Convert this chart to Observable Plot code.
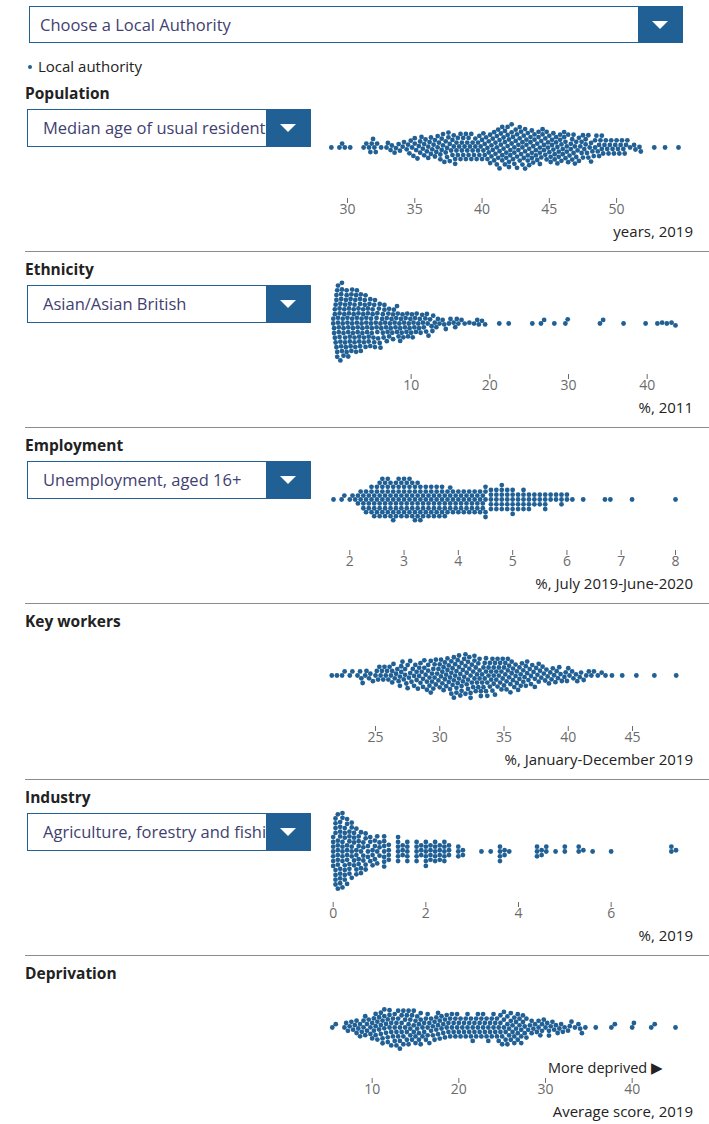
<!DOCTYPE html>
<html>
<head>
<meta charset="utf-8">
<script src="https://cdn.jsdelivr.net/npm/d3@7"></script>
<script src="https://cdn.jsdelivr.net/npm/@observablehq/plot@0.6"></script>
<style>
  body { margin: 0; background: #fff; font-family: "Open Sans", sans-serif; }
  #page { position: relative; width: 709px; height: 1124px; overflow: hidden; background: #fff; }
  .select { position: absolute; box-sizing: border-box; border: 1px solid #206095; background: #fff; overflow: hidden; }
  .select .txt { position: absolute; top: 0; white-space: nowrap; color: #3f4170; }
  .select .btn { position: absolute; right: 0; top: 0; bottom: 0; width: 44px; background: #206095; }
  .select .btn::after { content: ""; position: absolute; left: 14px; top: 50%; margin-top: -4px;
    border-left: 8px solid transparent; border-right: 8px solid transparent; border-top: 8px solid #fff; }
  .title { position: absolute; left: 25px; font-weight: 700; font-size: 15.5px; color: #222; line-height: 20px; }
  .sep { position: absolute; left: 25px; right: 0; height: 0; border-top: 1px solid #8c8c8c; }
  .unit { position: absolute; right: 16px; font-size: 15px; color: #222; line-height: 20px; white-space: nowrap; }
  .legend { position: absolute; left: 28px; top: 56px; font-size: 15px; color: #222; line-height: 20px; }
  .legend .dot { display: inline-block; width: 4px; height: 4px; border-radius: 50%; background: #206095; vertical-align: middle; margin-right: 6px; margin-top: -2px; }
</style>
</head>
<body>
<div id="page"></div>
<script>
// ---------- DATA ----------
// Median age of usual residents, years, 2019 — number of authorities per 0.1 year, from 28.8
const ageStart = 28.8, ageStep = 0.1;
const ageCounts = [1,0,
  0,0,0,0,1,0,1,0,1,0,  0,0,1,0,0,0,0,0,0,0,  0,0,1,0,1,0,1,1,1,1,  1,1,1,0,0,1,0,0,0,1,
  1,0,1,1,0,1,1,0,1,1,  0,1,1,0,1,1,1,1,1,1,  2,1,1,1,2,1,1,2,1,1,  2,1,2,1,1,2,1,2,1,2,
  2,2,1,2,2,2,2,1,2,2,  2,2,2,1,2,2,2,1,2,2,  2,1,2,2,1,2,1,2,2,1,  2,2,2,1,2,2,2,2,2,2,
  2,3,2,3,2,3,2,3,2,3,  3,2,3,2,3,2,3,2,3,2,  3,2,3,2,3,2,2,3,2,2,  2,2,2,3,2,2,2,2,2,2,
  2,2,2,2,2,2,2,2,2,2,  2,2,2,2,2,1,2,2,2,2,  2,1,2,1,2,2,1,2,1,2,  1,2,1,1,2,1,1,2,1,2,
  1,1,1,1,1,1,1,1,1,1,  1,1,1,1,1,1,1,1,1,0,  1,0,0,1,1,0,0,1,1,0,  0,0,0,0,0,0,0,0,1,0,
  0,0,0,0,0,0,1,0,0,0,  0,0,0,0,0,0,1];
const ageTicks = [30, 35, 40, 45, 50];

// Asian/Asian British, %, 2011 — number of authorities per 0.1 point, from 0.1, plus outliers
const asianStart = 0.1, asianStep = 0.1;
const asianCounts = [
  2,2,3,2,3,3,3,2,3,3,  3,3,2,3,2,3,2,3,2,3,  2,3,2,2,3,2,2,3,2,2,  3,2,2,2,3,2,2,2,2,2,
  2,2,2,2,2,2,1,2,2,2,  2,1,2,2,1,2,2,1,1,2,  2,1,1,2,1,2,1,1,2,1,  1,2,1,1,1,1,2,1,1,1,
  1,2,1,1,1,2,1,1,1,1,  1,1,1,1,1,1,1,1,1,1,  1,1,1,1,1,1,1,0,1,1,  1,1,0,1,1,1,0,1,1,1,
  1,1,0,1,0,1,1,1,0,1,  0,1,0,1,0,1,0,0,0,1,  0,1,0,1,0,0,0,1,0,1,  0,0,0,1,0,1,0,1,0,1,
  0,0,0,1,0,0,0,1,0,0,  0,0,0,1,0,0,0,0,0,1,  0,0,0,1,0,1,0,0,0,1,  0,0,0,1,0,0,0,0,0];
const asianOutliers = [21.2, 22.4, 25.4, 26.5, 26.9, 28.2, 29.6, 29.9, 34.0, 34.4, 37.0, 39.8, 41.3, 41.9, 42.5, 43.1, 43.6];
const asianTicks = [10, 20, 30, 40];

// Unemployment, aged 16+, %, July 2019-June 2020
// dense part: authorities per 0.05 from 1.70; sparse part: authorities per 0.1 from 4.5
const unempLowStart = 1.7, unempLowStep = 0.05;
const unempLowCounts = [
  1,0,0,1,1,0, 1,1,1,2,2,3, 3,3,4,4,4,5, 5,5,5,5,5,5, 5,5,5,5,5,5,
  5,5,5,4,4,4, 4,4,4,4,4,4, 3,4,3,3,3,3, 3,3,3,3,3,3, 3,3];
const unempHighStart = 4.5, unempHighStep = 0.1;
const unempHighCounts = [
  5,5,5,6,5, 6,4,5,4,3, 3,4,2,2,3, 2,1,0,1,0, 0,0,1,1,0, 0,0,1,0,0,
  0,0,0,0,0, 1];
const unempTicks = [2, 3, 4, 5, 6, 7, 8];

// Key workers, %, January-December 2019 — authorities per 0.1 point, from 21.6, plus outliers
const keyStart = 21.6, keyStep = 0.1;
const keyCounts = [1,0,0,0,
  1,0,0,0,1,0,1,0,0,0,  1,0,1,0,0,0,1,0,1,1,  1,0,1,1,0,1,1,0,1,0,  1,1,1,1,1,1,1,1,1,1,
  1,1,1,2,1,1,1,1,1,2,  2,1,1,2,1,2,1,2,1,1,  2,1,2,1,2,2,1,2,2,1,  2,2,2,2,2,2,2,2,1,2,
  2,2,2,2,2,2,2,2,2,3,  2,3,2,3,2,3,2,3,2,2,  3,2,3,2,3,2,2,3,2,2,  2,3,2,2,2,2,3,2,2,2,
  2,2,3,2,2,2,2,2,2,2,  2,2,2,2,2,2,2,2,1,2,  2,1,2,2,1,2,1,2,2,1,  1,2,1,1,2,1,1,2,1,1,
  1,1,1,1,1,1,1,1,1,1,  1,1,1,1,1,1,0,1,1,1,  1,1,0,1,1,0,1,1,0,1,  1,0,1,0,1,0,1,0,1,0,
  1,0,0,1,0,0,1,0,0,1,  0,0,0,0,1];
const keyOutliers = [44.2, 45.3, 46.7, 48.4];
const keyTicks = [25, 30, 35, 40, 45];

// Agriculture, forestry and fishing, %, 2019
// dense part: authorities per 0.05 from 0; sparse part: authorities per 0.1 from 1.0
const agriLowStart = 0, agriLowStep = 0.05;
const agriLowCounts = [7,8,8,8,8, 7,7,6,6,5, 5,5,4,4,4, 3,3,3,3,3];
const agriHighStart = 1.0, agriHighStep = 0.1;
const agriHighCounts = [
  3,7,4,0,6, 3,5,0,5,3, 6,4,5,4,5, 3,0,3,2,0, 0,0,1,0,1, 0,4,2,1,0,
  0,0,0,0,3, 2,2,0,1,0, 2,0,0,2,1, 0,1,0,0,0, 1,0,0,0,0, 0,0,0,0,0,
  0,0,0,2,1];
const agriTicks = [0, 2, 4, 6];

// Deprivation, average score, 2019 — authorities per 0.2 point, from 5.4
const depStart = 5.4, depStep = 0.2;
const depCounts = [1,0,1,
  0,0,0,0,1,  1,1,1,1,1,  1,2,1,2,1,  2,2,2,1,2,  2,2,3,2,2,  3,3,3,2,3,  3,3,2,3,3,  3,3,3,3,2,
  3,3,3,2,3,  3,2,3,3,2,  2,2,3,2,2,  2,2,2,3,2,  2,2,2,2,2,  2,2,2,2,2,  2,2,1,2,2,  2,2,2,2,2,
  2,2,2,2,2,  2,2,2,2,2,  2,2,2,2,3,  2,3,2,3,2,  3,2,3,2,3,  2,3,2,2,2,  1,1,2,1,1,  1,2,1,2,1,
  1,1,2,1,1,  1,1,1,1,1,  1,1,0,1,1,  1,0,1,0,1,  1,1,0,1,0,  0,0,0,0,1,  0,0,0,0,0,  0,0,0,1,0,
  1,0,0,0,0,  0,0,0,0,0,  1,1,0,0,0,  0,0,0,0,0,  0,1,0,1,0,  0,0,0,0,0,  0,0,0,0,0,
  1];
const depTicks = [10, 20, 30, 40];

// Text
const sectionTitles = ["Population", "Ethnicity", "Employment", "Key workers", "Industry", "Deprivation"];
const sectionSelects = ["Median age of usual resident", "Asian/Asian British", "Unemployment, aged 16+", null, "Agriculture, forestry and fishing", null];
const sectionUnits = ["years, 2019", "%, 2011", "%, July 2019-June-2020", "%, January-December 2019", "%, 2019", "Average score, 2019"];

// ---------- BUILD ----------
function bins(start, step, counts) {
  const out = [];
  counts.forEach((c, i) => {
    const v = +(start + i * step).toFixed(2);
    for (let k = 0; k < c; k++) out.push(v);
  });
  return out;
}
function rowsOf(...lists) {
  return lists.flat().sort((a, b) => a - b).map(v => ({v}));
}

const panels = [
  {rows: rowsOf(bins(ageStart, ageStep, ageCounts)), ticks: ageTicks, domain: [28.7, 54.6], range: [329.5, 678]},
  {rows: rowsOf(bins(asianStart, asianStep, asianCounts), asianOutliers), ticks: asianTicks, domain: [0, 43.6], range: [332, 675]},
  {rows: rowsOf(bins(unempLowStart, unempLowStep, unempLowCounts), bins(unempHighStart, unempHighStep, unempHighCounts)), ticks: unempTicks, domain: [1.7, 8.0], range: [333, 675]},
  {rows: rowsOf(bins(keyStart, keyStep, keyCounts), keyOutliers), ticks: keyTicks, domain: [21.6, 48.4], range: [331.3, 675.7]},
  {rows: rowsOf(bins(agriLowStart, agriLowStep, agriLowCounts), bins(agriHighStart, agriHighStep, agriHighCounts)), ticks: agriTicks, domain: [0, 7.4], range: [332.7, 675.5]},
  {rows: rowsOf(bins(depStart, depStep, depCounts)), ticks: depTicks, domain: [5.4, 45.0], range: [331.8, 675]}
];

const page = document.getElementById("page");
const blue = "#206095";
const tops = [75, 251, 427, 603, 779, 955];

function el(tag, cls, style, text) {
  const e = document.createElement(tag);
  if (cls) e.className = cls;
  Object.assign(e.style, style || {});
  if (text != null) e.textContent = text;
  page.appendChild(e);
  return e;
}
function select(left, top, width, height, label, fontSize, pad) {
  const s = el("div", "select", {left: left + "px", top: top + "px", width: width + "px", height: height + "px"});
  const t = document.createElement("div");
  t.className = "txt";
  t.textContent = label;
  Object.assign(t.style, {left: pad + "px", lineHeight: (height - 2) + "px", fontSize: fontSize + "px"});
  s.appendChild(t);
  const b = document.createElement("div");
  b.className = "btn";
  s.appendChild(b);
}

// Top controls
select(29, 6, 654, 37, "Choose a Local Authority", 16.5, 10);
const lg = el("div", "legend", {});
lg.innerHTML = '<span class="dot"></span>Local authority';

panels.forEach((p, i) => {
  const T = tops[i];
  if (i > 0) el("div", "sep", {top: T + "px"});
  el("div", "title", {top: (T + 8) + "px"}, sectionTitles[i]);

  const chart = Plot.plot({
    width: 709,
    height: 130,
    marginTop: 0,
    marginBottom: 37,
    marginLeft: 0,
    marginRight: 0,
    style: {background: "transparent", color: "#6b6b6b", fontFamily: '"Open Sans", sans-serif', fontSize: "14px", overflow: "visible"},
    x: {domain: p.domain, range: p.range, label: null},
    marks: [
      Plot.axisX({ticks: p.ticks, tickSize: 5, tickPadding: 1, tickFormat: d => String(d), label: null}),
      Plot.dot(p.rows, Plot.dodgeY({anchor: "middle", padding: 0, x: "v", r: 2.4, fill: blue, dy: -4.5}))
    ]
  });
  chart.style.position = "absolute";
  chart.style.left = "0px";
  chart.style.top = (T + 30) + "px";
  page.appendChild(chart);

  if (sectionSelects[i]) select(27, T + 34, 284, 38, sectionSelects[i], 16.5, 15);
  el("div", "unit", {top: (T + 146) + "px"}, sectionUnits[i]);
});

el("div", "unit", {top: (955 + 103) + "px", right: "46px", fontSize: "14.5px"}, "More deprived \u25B6");
</script>
</body>
</html>
